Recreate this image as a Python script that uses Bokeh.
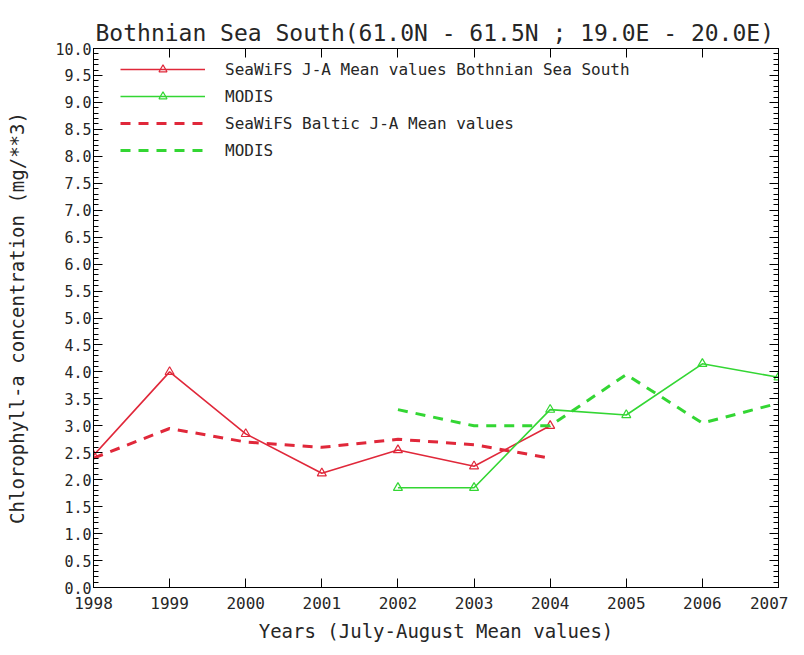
from bokeh.plotting import figure
from bokeh.models import FixedTicker, NumeralTickFormatter, LinearAxis, Legend, LegendItem, Range1d
from bokeh.embed import file_html
from bokeh.resources import INLINE

# ---- data ----
years_sw = [1998, 1999, 2000, 2001, 2002, 2003, 2004]
sw_bothnian = [2.45, 4.0, 2.85, 2.12, 2.55, 2.25, 3.0]
years_modis = [2002, 2003, 2004, 2005, 2006, 2007]
modis_bothnian = [1.85, 1.85, 3.3, 3.2, 4.15, 3.9]
sw_baltic = [2.4, 2.95, 2.7, 2.6, 2.75, 2.65, 2.4]
modis_baltic = [3.3, 3.0, 3.0, 3.95, 3.05, 3.42]
x_ticks = [1998, 1999, 2000, 2001, 2002, 2003, 2004, 2005, 2006, 2007]
y_ticks = [i * 0.5 for i in range(21)]
y_minor = [i * 0.1 for i in range(101)]

labels = ["SeaWiFS J-A Mean values Bothnian Sea South", "MODIS",
          "SeaWiFS Baltic J-A Mean values", "MODIS"]
title_text = "Bothnian Sea South(61.0N - 61.5N ; 19.0E - 20.0E)"

RED = "#e0283a"
GREEN = "#33d633"
FONT = "DejaVu Sans Mono"
TXT = "#262626"

p = figure(frame_width=685, frame_height=539, output_backend="svg", toolbar_location=None,
           x_range=Range1d(1998, 2007), y_range=Range1d(0, 10),
           min_border_left=93, min_border_right=10, min_border_top=48, min_border_bottom=60,
           title=title_text)
p.title.text_font = FONT
p.title.text_font_size = "23px"
p.title.text_font_style = "normal"
p.title.text_color = TXT
p.title.align = "left"
p.title.offset = 2
p.title.standoff = 6
p.background_fill_color = "white"
p.border_fill_color = "white"
p.outline_line_color = "black"
p.grid.visible = False


def style_axis(ax, size="14px"):
    ax.axis_line_color = "black"
    ax.major_tick_in = 9
    ax.major_tick_out = 0
    ax.minor_tick_in = 5
    ax.minor_tick_out = 0
    ax.major_tick_line_color = "black"
    ax.minor_tick_line_color = "black"
    ax.major_label_text_font = FONT
    ax.major_label_text_font_size = size
    ax.major_label_text_color = TXT
    ax.axis_label_text_font = FONT
    ax.axis_label_text_font_size = "19px"
    ax.axis_label_text_font_style = "normal"
    ax.axis_label_text_color = TXT


xa = p.xaxis[0]
xa.ticker = FixedTicker(ticks=x_ticks)
xa.axis_label = "Years (July-August Mean values)"
xa.axis_label_standoff = 8
xa.major_label_standoff = 9
style_axis(xa, "16px")
xa.minor_tick_in = 0

ya = p.yaxis[0]
ya.ticker = FixedTicker(ticks=y_ticks, minor_ticks=y_minor)
ya.formatter = NumeralTickFormatter(format="0.0")
ya.axis_label = "Chlorophyll-a concentration (mg/**3)"
ya.axis_label_standoff = 24
ya.major_label_standoff = 2
style_axis(ya, "15px")

top = LinearAxis(ticker=FixedTicker(ticks=x_ticks))
style_axis(top, "1px")
top.major_label_text_color = None
top.minor_tick_in = 0
top.major_label_standoff = 0
p.add_layout(top, "above")

right = LinearAxis(ticker=FixedTicker(ticks=y_ticks, minor_ticks=y_minor))
style_axis(right, "1px")
right.major_label_text_color = None
right.major_label_standoff = 0
p.add_layout(right, "right")

r1 = p.line(years_sw, sw_bothnian, line_color=RED, line_width=1.6)
m1 = p.scatter(years_sw, sw_bothnian, marker="triangle", size=9, fill_color=None,
               line_color=RED, line_width=1.2)
r2 = p.line(years_modis, modis_bothnian, line_color=GREEN, line_width=1.6)
m2 = p.scatter(years_modis, modis_bothnian, marker="triangle", size=9, fill_color=None,
               line_color=GREEN, line_width=1.2)
r3 = p.line(years_sw, sw_baltic, line_color=RED, line_width=3, line_dash="10 8")
r4 = p.line(years_modis, modis_baltic, line_color=GREEN, line_width=3, line_dash="10 8")

legend = Legend(items=[
    LegendItem(label=labels[0], renderers=[r1, m1]),
    LegendItem(label=labels[1], renderers=[r2, m2]),
    LegendItem(label=labels[2], renderers=[r3]),
    LegendItem(label=labels[3], renderers=[r4]),
], location=(27, 427))
legend.border_line_color = None
legend.background_fill_alpha = 0
legend.glyph_width = 85
legend.glyph_height = 20
legend.label_height = 20
legend.spacing = 7
legend.padding = 10
legend.label_standoff = 20
legend.label_text_font = FONT
legend.label_text_font_size = "16px"
legend.label_text_color = TXT
p.add_layout(legend)

open("out.html", "w").write(file_html(p, INLINE))
